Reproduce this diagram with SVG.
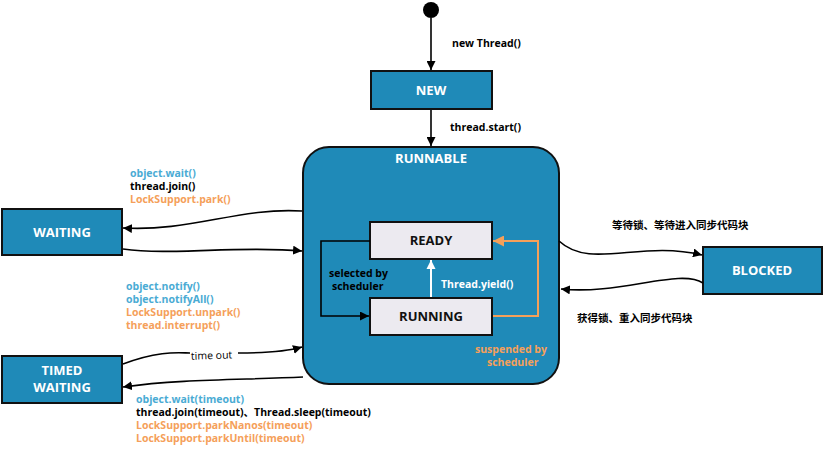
<svg xmlns="http://www.w3.org/2000/svg" width="825" height="450" viewBox="0 0 825 450">
<defs>
<marker id="ah" viewBox="0 0 10 10" refX="10" refY="5" markerWidth="9" markerHeight="9" orient="auto" markerUnits="userSpaceOnUse"><path d="M0,0 L10,5 L0,10 z" fill="#000"/></marker>
<marker id="ahw" viewBox="0 0 10 10" refX="10" refY="5" markerWidth="9" markerHeight="11" orient="auto" markerUnits="userSpaceOnUse"><path d="M0,0 L10,5 L0,10 z" fill="#fff"/></marker>
<marker id="aho" viewBox="0 0 10 10" refX="10" refY="5" markerWidth="11" markerHeight="11" orient="auto" markerUnits="userSpaceOnUse"><path d="M0,0 L10,5 L0,10 z" fill="#F5A05A"/></marker>
</defs>
<style>
.box{fill:#1F8AB8;stroke:#111;stroke-width:2}
.inner{fill:#ECEAF0;stroke:#111;stroke-width:2}
.bt{font-family:"Open Sans","Noto Sans",sans-serif;font-weight:700;font-size:13px;fill:#fff;text-anchor:middle}
.it{font-family:"Open Sans","Noto Sans",sans-serif;font-weight:700;font-size:13px;fill:#111;text-anchor:middle}
.lb{font-family:"Open Sans","Noto Sans","Noto Sans CJK SC",sans-serif;font-weight:700;font-size:10.5px;fill:#000}
.blue{fill:#4AABD4}
.orange{fill:#F5A05A}
.white{fill:#fff}
.c{fill:none;stroke:#000;stroke-width:1.6}
</style>
<rect width="825" height="450" fill="#fff"/>
<g id="start"><circle cx="431" cy="10" r="8" fill="#000"/></g>
<g id="runnable">
<rect class="box" x="303" y="147" width="256" height="237" rx="26"/>
<text class="bt" x="431" y="163">RUNNABLE</text>
</g>
<g id="new"><rect class="box" x="371" y="71" width="121" height="38"/><text class="bt" x="431" y="95">NEW</text></g>
<g id="ready"><rect class="inner" x="370" y="222" width="122" height="37"/><text class="it" x="431" y="245">READY</text></g>
<g id="running"><rect class="inner" x="370" y="298" width="122" height="37"/><text class="it" x="431" y="321">RUNNING</text></g>
<g id="waiting"><rect class="box" x="2" y="209" width="120" height="46"/><text class="bt" x="62" y="237">WAITING</text></g>
<g id="timed"><rect class="box" x="2" y="356" width="120" height="47"/><text class="bt" x="62" y="375">TIMED</text><text class="bt" x="62" y="392">WAITING</text></g>
<g id="blocked"><rect class="box" x="703" y="247" width="119" height="47"/><text class="bt" x="762" y="275">BLOCKED</text></g>
<g id="connectors">
<path class="c" d="M431,18 L431,70" marker-end="url(#ah)"/>
<path class="c" d="M431,110 L431,146" marker-end="url(#ah)"/>
<path class="c" d="M370,241 L321,241 L321,316 L369,316" marker-end="url(#ah)"/>
<path d="M431,297 L431,260" fill="none" stroke="#fff" stroke-width="2" marker-end="url(#ahw)"/>
<path d="M493,316 L538,316 L538,241 L493,241" fill="none" stroke="#F5A05A" stroke-width="2" marker-end="url(#aho)"/>
<path class="c" d="M302,211 C240,207 190,232 123,228" marker-end="url(#ah)"/>
<path class="c" d="M123,249 C170,256 240,245 302,251" marker-end="url(#ah)"/>
<path class="c" d="M123,364 C160,350 180,353 190,353 M238,353 C260,353 285,352 302,347" marker-end="url(#ah)"/>
<path class="c" d="M303,377 C240,380 180,379 123,387" marker-end="url(#ah)"/>
<path class="c" d="M559,241 C590,270 640,240 702,255" marker-end="url(#ah)"/>
<path class="c" d="M703,283 C680,268 620,295 561,289" marker-end="url(#ah)"/>
</g>
<g id="labels">
<text class="lb" x="452" y="47">new Thread()</text>
<text class="lb" x="450" y="131">thread.start()</text>
<text class="lb" x="329" y="277">selected by</text>
<text class="lb" x="332" y="290">scheduler</text>
<text class="lb white" x="441" y="288">Thread.yield()</text>
<text class="lb orange" x="475" y="353">suspended by</text>
<text class="lb orange" x="487" y="366">scheduler</text>
<text class="lb blue" x="130" y="177">object.wait()</text>
<text class="lb" x="130" y="190">thread.join()</text>
<text class="lb orange" x="130" y="203">LockSupport.park()</text>
<text class="lb blue" x="126" y="290">object.notify()</text>
<text class="lb blue" x="126" y="303">object.notifyAll()</text>
<text class="lb orange" x="126" y="316">LockSupport.unpark()</text>
<text class="lb orange" x="126" y="329">thread.interrupt()</text>
<text class="lb" x="191" y="359" style="font-weight:400" transform="rotate(-2 213 356)">time out</text>
<text class="lb blue" x="136" y="403">object.wait(timeout)</text>
<text class="lb" x="136" y="416">thread.join(timeout)、Thread.sleep(timeout)</text>
<text class="lb orange" x="136" y="429">LockSupport.parkNanos(timeout)</text>
<text class="lb orange" x="136" y="442">LockSupport.parkUntil(timeout)</text>
<text class="lb" x="612" y="229">等待锁、等待进入同步代码块</text>
<text class="lb" x="577" y="322">获得锁、重入同步代码块</text>
</g>
</svg>
